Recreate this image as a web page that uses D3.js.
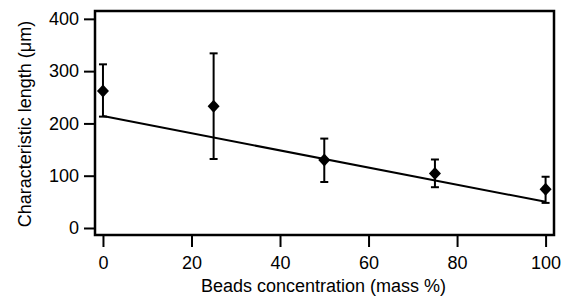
<!DOCTYPE html>
<html>
<head>
<meta charset="utf-8">
<script src="https://cdn.jsdelivr.net/npm/d3@7"></script>
<style>
  body { margin: 0; background: #fff; }
  svg text { font-family: "Liberation Sans", Arial, Helvetica, sans-serif; fill: #000; }
</style>
</head>
<body>
<svg width="568" height="301"></svg>
<script>
// measured points (mean and error bar limits)
var concentration = [0, 25, 50, 75, 100];
var lengthMean = [262, 233, 130, 104, 74];
var errLow = [213, 132, 88, 78, 48];
var errHigh = [313, 334, 171, 131, 98];

// fitted line
var fitX = [0, 100];
var fitY = [214, 50];

var xTicks = [0, 20, 40, 60, 80, 100];
var yTicks = [0, 100, 200, 300, 400];

var svg = d3.select("svg");

var plotLeft = 95, plotRight = 554, plotTop = 11, plotBottom = 235;

var x = d3.scaleLinear().domain([-1.8, 101.9]).range([plotLeft, plotRight]);
var y = d3.scaleLinear().domain([-13.4, 415]).range([plotBottom, plotTop]);

// axes
var xAxis = svg.append("g")
    .attr("transform", "translate(0," + plotBottom + ")")
    .call(d3.axisBottom(x).tickValues(xTicks).tickSize(12).tickPadding(9).tickFormat(d3.format("d")));

var yAxis = svg.append("g")
    .attr("transform", "translate(" + plotLeft + ",0)")
    .call(d3.axisLeft(y).tickValues(yTicks).tickSize(11).tickPadding(5).tickFormat(d3.format("d")));

[xAxis, yAxis].forEach(function(g) {
  g.select(".domain").remove();
  g.selectAll("line").attr("stroke", "#000").attr("stroke-width", 2);
  g.selectAll("text").attr("font-size", 18).attr("font-family", null);
});

// frame
svg.append("rect")
    .attr("x", plotLeft).attr("y", plotTop)
    .attr("width", plotRight - plotLeft).attr("height", plotBottom - plotTop)
    .attr("fill", "none").attr("stroke", "#000").attr("stroke-width", 2.5);

// fit line
var line = d3.line().x(function(d) { return x(d[0]); }).y(function(d) { return y(d[1]); });
svg.append("path")
    .datum(d3.zip(fitX, fitY))
    .attr("d", line)
    .attr("fill", "none").attr("stroke", "#000").attr("stroke-width", 2);

// error bars
var data = concentration.map(function(c, i) {
  return { x: c, y: lengthMean[i], lo: errLow[i], hi: errHigh[i] };
});

var bars = svg.append("g").attr("stroke", "#000").attr("stroke-width", 2);
bars.selectAll("line.v").data(data).enter().append("line")
    .attr("x1", d => x(d.x)).attr("x2", d => x(d.x))
    .attr("y1", d => y(d.lo)).attr("y2", d => y(d.hi));
bars.selectAll("line.lo").data(data).enter().append("line")
    .attr("x1", d => x(d.x) - 4).attr("x2", d => x(d.x) + 4)
    .attr("y1", d => y(d.lo)).attr("y2", d => y(d.lo));
bars.selectAll("line.hi").data(data).enter().append("line")
    .attr("x1", d => x(d.x) - 4).attr("x2", d => x(d.x) + 4)
    .attr("y1", d => y(d.hi)).attr("y2", d => y(d.hi));

// diamonds
svg.append("g").selectAll("path").data(data).enter().append("path")
    .attr("d", "M0,-6.5L6,0L0,6.5L-6,0Z")
    .attr("transform", d => "translate(" + x(d.x) + "," + y(d.y) + ")")
    .attr("fill", "#000");

// axis titles
svg.append("text")
    .attr("x", (plotLeft + plotRight) / 2 - 1).attr("y", 292)
    .attr("text-anchor", "middle").attr("font-size", 18)
    .text("Beads concentration (mass %)");

svg.append("text")
    .attr("transform", "translate(31,124) rotate(-90)")
    .attr("text-anchor", "middle").attr("font-size", 18)
    .text("Characteristic length (μm)");
</script>
</body>
</html>
